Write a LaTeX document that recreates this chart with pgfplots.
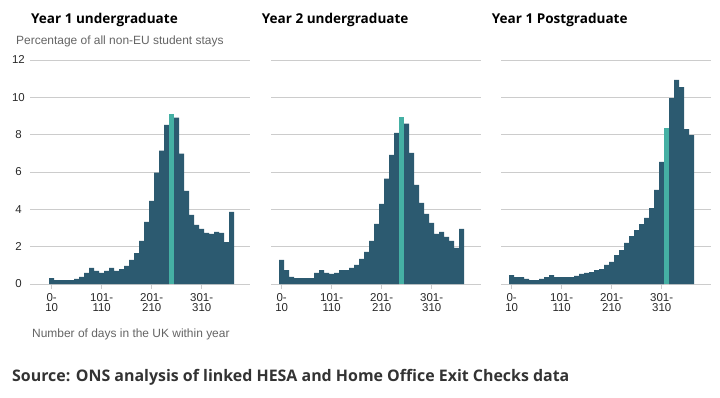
\documentclass[border=0pt]{standalone}
\usepackage{pgfplots}
\pgfplotsset{compat=1.18}
\usepackage{fontspec}
\setmainfont{Liberation Sans}
\newfontfamily\osans{Open Sans}
\definecolor{bardark}{RGB}{44,90,112}
\definecolor{barteal}{RGB}{69,176,164}
\definecolor{gridgray}{RGB}{204,204,204}
\definecolor{labgray}{RGB}{100,100,100}
\definecolor{ticktext}{RGB}{40,40,40}
\definecolor{srcgray}{RGB}{51,51,51}

\pgfplotstableread{
x y
0 0.32
1 0.21
2 0.21
3 0.21
4 0.21
5 0.27
6 0.38
7 0.59
8 0.86
9 0.70
10 0.59
11 0.70
12 0.86
13 0.70
14 0.80
15 0.97
16 1.29
17 1.66
18 2.31
19 3.33
20 4.45
21 5.96
22 7.14
23 8.53
25 8.91
26 6.98
27 4.99
28 3.70
29 3.17
30 2.95
31 2.74
32 2.68
33 2.79
34 2.74
35 2.25
36 3.86
}\yearone
\pgfplotstableread{
x y
24 9.12
}\yearoneteal

\pgfplotstableread{
x y
0 1.29
1 0.75
2 0.38
3 0.32
4 0.32
5 0.32
6 0.32
7 0.59
8 0.75
9 0.59
10 0.54
11 0.59
12 0.75
13 0.75
14 0.86
15 1.02
16 1.34
17 1.72
18 2.31
19 3.22
20 4.29
21 5.64
22 6.92
23 8.10
25 8.59
26 7.03
27 5.31
28 4.35
29 3.76
30 3.27
31 2.68
32 2.79
33 2.52
34 2.31
35 1.93
36 2.95
}\yeartwo
\pgfplotstableread{
x y
24 8.96
}\yeartwoteal

\pgfplotstableread{
x y
0 0.48
1 0.375
2 0.375
3 0.27
4 0.21
5 0.21
6 0.27
7 0.375
8 0.48
9 0.375
10 0.375
11 0.375
12 0.375
13 0.43
14 0.54
15 0.59
16 0.64
17 0.75
18 0.80
19 1.02
20 1.18
21 1.55
22 1.82
23 2.20
24 2.57
25 2.89
26 3.21
27 3.54
28 4.07
29 5.04
30 6.54
32 9.96
33 10.93
34 10.55
35 8.30
36 7.98
}\postgrad
\pgfplotstableread{
x y
31 8.36
}\postgradteal

\begin{document}
\begin{tikzpicture}[x=1bp,y=1bp]
\useasboundingbox (0,0) rectangle (720,397);
\pgfplotsset{
  panel/.style={
    scale only axis,
    height=224bp,
    ymin=0, ymax=12,
    ytick={0,2,...,12},
    ymajorgrids,
    grid style={draw=gridgray, line width=0.9bp},
    axis line style={draw=none},
    xtick={0,10,20,30},
    xticklabels={{0-\\10},{101-\\110},{201-\\210},{301-\\310}},
    xtick pos=lower,
    tick align=outside,
    major tick length=5bp,
    xtick style={draw=gridgray, line width=0.9bp},
    ytick style={draw=none},
    /pgf/number format/assume math mode=true,
    xticklabel style={align=center, font=\fontsize{11.5}{10.5}\selectfont, text=ticktext, yshift=-1bp},
    yticklabel style={anchor=center, font=\fontsize{11.5}{12}\selectfont, text=ticktext},
    ybar, bar width=1,
    clip=false,
  },
  darkbar/.style={fill=bardark, draw=none, bar shift=0pt, bar width=1},
  tealbar/.style={fill=barteal, draw=none, bar shift=0pt, bar width=1},
}
% Panel 1
\begin{axis}[panel, at={(30bp,113bp)}, anchor=south west, width=220bp,
  xmin=-4.34, xmax=39.66, yticklabels={0,2,4,6,8,10,12},
  yticklabel style={xshift=-6.5bp}]
\addplot[darkbar] table[x=x,y=y] {\yearone};
\addplot[tealbar] table[x=x,y=y] {\yearoneteal};
\end{axis}
% Panel 2
\begin{axis}[panel, at={(271bp,113bp)}, anchor=south west, width=210bp,
  xmin=-2.14, xmax=39.86, yticklabels={}]
\addplot[darkbar] table[x=x,y=y] {\yeartwo};
\addplot[tealbar] table[x=x,y=y] {\yeartwoteal};
\end{axis}
% Panel 3
\begin{axis}[panel, at={(501bp,113bp)}, anchor=south west, width=210bp,
  xmin=-2.14, xmax=39.86, yticklabels={}]
\addplot[darkbar] table[x=x,y=y] {\postgrad};
\addplot[tealbar] table[x=x,y=y] {\postgradteal};
\end{axis}

\node[anchor=base west, inner sep=0pt, font=\osans\bfseries\fontsize{13.6}{16}\selectfont, text=black] at (31,373.7) {Year 1 undergraduate};
\node[anchor=base west, inner sep=0pt, font=\osans\bfseries\fontsize{13.6}{16}\selectfont, text=black] at (261.7,373.7) {Year 2 undergraduate};
\node[anchor=base west, inner sep=0pt, font=\osans\bfseries\fontsize{13.6}{16}\selectfont, text=black] at (491.7,373.7) {Year 1 Postgraduate};
\node[anchor=base west, inner sep=0pt, font=\fontsize{12}{14}\selectfont, text=labgray] at (16,353) {Percentage of all non-EU student stays};
\node[anchor=base west, inner sep=0pt, font=\fontsize{12}{14}\selectfont, text=labgray] at (32,60) {Number of days in the UK within year};
\node[anchor=base west, inner sep=0pt, font=\osans\bfseries\fontsize{16}{18}\selectfont, text=srcgray] at (12,15.3) {Source: ONS analysis of linked HESA and Home Office Exit Checks data};
\end{tikzpicture}
\end{document}
